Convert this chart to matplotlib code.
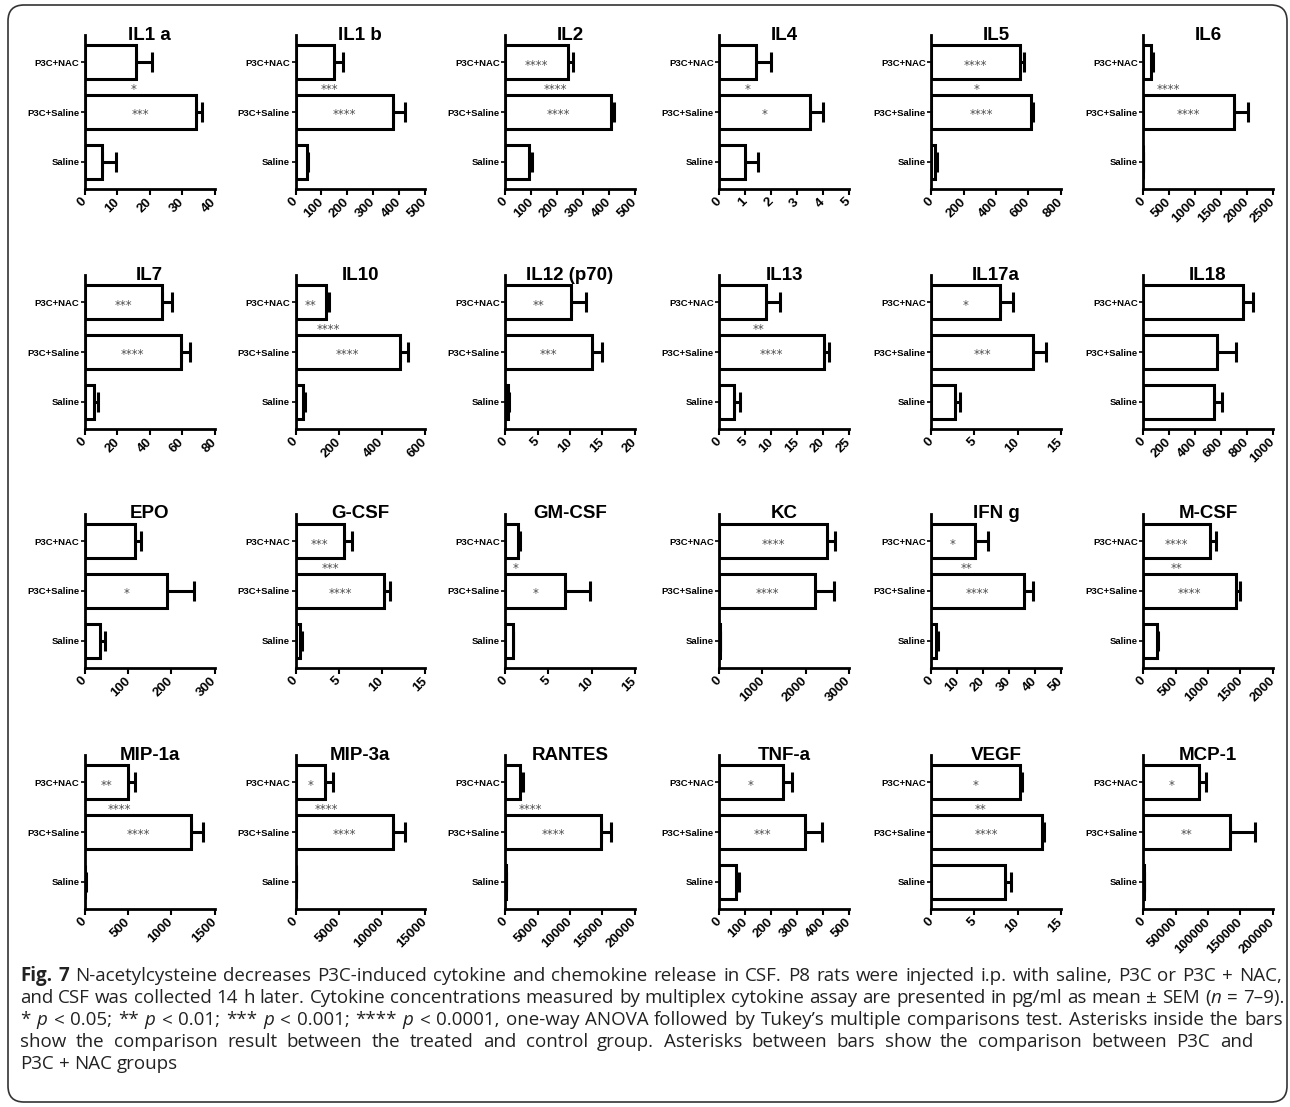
import matplotlib.pyplot as plt
from matplotlib.patches import FancyBboxPatch
from matplotlib.transforms import IdentityTransform

panel_titles = ['IL1 a', 'IL1 b', 'IL2', 'IL4', 'IL5', 'IL6',
                'IL7', 'IL10', 'IL12 (p70)', 'IL13', 'IL17a', 'IL18',
                'EPO', 'G-CSF', 'GM-CSF', 'KC', 'IFN g', 'M-CSF',
                'MIP-1a', 'MIP-3a', 'RANTES', 'TNF-a', 'VEGF', 'MCP-1']
groups = ['Saline', 'P3C+Saline', 'P3C+NAC']

# pg/ml, mean and SEM per panel
saline_mean = [5.4, 44, 92, 1.0, 25, 0, 5.5, 35, 0.4, 2.9, 2.7, 545,
               34, 0.55, 0.85, 20, 1.9, 215, 5, 30, 50, 64, 8.5, 500]
saline_sem = [4.2, 4, 13, 0.5, 10, 0, 2.5, 8, 0.1, 1.1, 0.6, 65,
              12, 0.15, 0.05, 5, 0.5, 5, 1, 10, 20, 13, 0.7, 100]
p3c_mean = [34.2, 378, 407, 3.5, 618, 1750, 59, 484, 13.4, 20.2, 11.8, 570,
            191, 10.3, 6.9, 2228, 35.8, 1426, 1230, 11280, 14830, 330, 12.8, 134400]
p3c_sem = [1.8, 45, 13, 0.5, 8, 270, 6, 36, 1.5, 1.0, 1.5, 145,
           61, 0.7, 2.9, 430, 3.6, 60, 135, 1460, 1550, 67, 0.3, 38400]
nac_mean = [15.7, 148, 241, 1.4, 550, 140, 47.5, 140, 10.2, 9.1, 7.9, 770,
            115, 5.65, 1.5, 2505, 16.7, 1026, 501, 3400, 2270, 245, 10.3, 86150]
nac_sem = [4.9, 35, 21, 0.6, 22, 50, 6.5, 15, 2.3, 2.7, 1.6, 80,
           15, 0.95, 0.2, 185, 5.1, 100, 77, 1000, 420, 35, 0.2, 10250]

x_max = [40, 500, 500, 5, 800, 2500, 80, 600, 20, 25, 15, 1000,
         300, 15, 15, 3000, 50, 2000, 1500, 15000, 20000, 500, 15, 200000]
x_step = [10, 100, 100, 1, 200, 500, 20, 200, 5, 5, 5, 200,
          100, 5, 5, 1000, 10, 500, 500, 5000, 5000, 100, 5, 50000]

# significance marks: inside P3C+Saline bar, inside P3C+NAC bar, between the two
stars_p3c = ['***', '****', '****', '*', '****', '****', '****', '****', '***', '****', '***', '',
             '*', '****', '*', '****', '****', '****', '****', '****', '****', '***', '****', '**']
stars_nac = ['', '', '****', '', '****', '', '***', '**', '**', '', '*', '',
             '', '***', '', '****', '*', '****', '**', '*', '', '*', '*', '*']
stars_between = ['*', '***', '****', '*', '*', '****', '', '****', '', '**', '', '',
                 '', '***', '*', '', '**', '**', '****', '****', '****', '', '**', '']
between_x = [15, 131, 193, 1.09, 281, 481, 0, 152, 0, 7.5, 0, 0,
             0, 4.1, 1.24, 0, 13.7, 513, 393, 3606, 3824, 0, 5.73, 0]

caption_lines = [
    "Fig. 7 N-acetylcysteine decreases P3C-induced cytokine and chemokine release in CSF. P8 rats were injected i.p. with saline, P3C or P3C + NAC,",
    "and CSF was collected 14 h later. Cytokine concentrations measured by multiplex cytokine assay are presented in pg/ml as mean \u00b1 SEM ($n$ = 7\u20139).",
    "* $p$ < 0.05; ** $p$ < 0.01; *** $p$ < 0.001; **** $p$ < 0.0001, one-way ANOVA followed by Tukey\u2019s multiple comparisons test. Asterisks inside the bars",
    "show the comparison result between the treated and control group. Asterisks between bars show the comparison between P3C and",
    "P3C + NAC groups",
]

plt.rcParams['font.family'] = ['Liberation Sans', 'DejaVu Sans']
plt.rcParams['mathtext.fontset'] = 'custom'
plt.rcParams['mathtext.rm'] = 'Open Sans'
plt.rcParams['mathtext.it'] = 'Open Sans:italic'

W, H = 1290, 1107
fig = plt.figure(figsize=(W / 100, H / 100), dpi=100)

col_x = [85, 295.5, 505.3, 719.3, 931.3, 1143.3]
row_top = [35, 275, 514, 755]
ax_w, ax_h = 129.5, 154


def stars(ax, x, y, s):
    if s:
        ax.annotate(s, (x, y), xytext=(0, -4.5), textcoords='offset points',
                    ha='center', va='baseline', fontsize=8.5, color='#4d4d4d',
                    family='DejaVu Sans', zorder=5)


for i, name in enumerate(panel_titles):
    r, c = divmod(i, 6)
    ax = fig.add_axes([col_x[c] / W, 1 - (row_top[r] + ax_h) / H, ax_w / W, ax_h / H])
    means = [saline_mean[i], p3c_mean[i], nac_mean[i]]
    sems = [saline_sem[i], p3c_sem[i], nac_sem[i]]
    ax.errorbar(means, range(3), xerr=[[0, 0, 0], sems], fmt='none', ecolor='black',
                elinewidth=2.2, capsize=7, capthick=2.2, zorder=1)
    ax.barh(range(3), means, height=0.68, color='white', edgecolor='black',
            linewidth=2.2, zorder=2)

    stars(ax, p3c_mean[i] / 2, 1, stars_p3c[i])
    stars(ax, nac_mean[i] / 2, 2, stars_nac[i])
    stars(ax, between_x[i], 1.5, stars_between[i])

    ticks = [k * x_step[i] for k in range(round(x_max[i] / x_step[i]) + 1)]
    ax.set_xlim(0, x_max[i])
    ax.set_ylim(-0.55, 2.55)
    ax.set_xticks(ticks)
    ax.set_xticklabels([f'{t:g}' for t in ticks], rotation=45, ha='right', va='center',
                       rotation_mode='anchor', fontsize=9.5, fontweight='bold')
    ax.set_yticks(range(3))
    ax.set_yticklabels(groups, fontsize=6.8, fontweight='bold')
    ax.tick_params(axis='x', length=4, width=1.5, pad=4)
    ax.tick_params(axis='y', length=3, width=1.2, pad=1)
    for side in ['top', 'right']:
        ax.spines[side].set_visible(False)
    for side in ['left', 'bottom']:
        ax.spines[side].set_linewidth(2)
    ax.text(0.5, 1.0, name, transform=ax.transAxes, ha='center', va='center',
            fontsize=13.5, fontweight='bold')

# caption, justified line by line
renderer = fig.canvas.get_renderer()
cap_left = 20
line_y = [981, 1003, 1025, 1047, 1069]
line_right = [1282, 1284, 1283, 1253, None]
for li, line in enumerate(caption_lines):
    words = line.split(' ')
    arts = []
    for wi, w in enumerate(words):
        bold = li == 0 and wi < 2
        arts.append(fig.text(0, 1 - line_y[li] / H, w, fontsize=13.5, family='Open Sans',
                             fontweight='bold' if bold else 'normal', va='baseline',
                             color='#222222'))
    widths = [t.get_window_extent(renderer).width for t in arts]
    if line_right[li] is None:
        gap = 0.26 * 13.5 * 100 / 72
    else:
        gap = (line_right[li] - cap_left - sum(widths)) / (len(arts) - 1)
    x = cap_left
    for t, w in zip(arts, widths):
        t.set_x(x / W)
        x += w + gap

frame = FancyBboxPatch((8, 5), 1279, 1097, boxstyle='round,pad=0,rounding_size=16',
                       transform=IdentityTransform(), facecolor='none',
                       edgecolor='#333333', linewidth=1.2)
fig.add_artist(frame)

fig.savefig('out.png', dpi=100)
